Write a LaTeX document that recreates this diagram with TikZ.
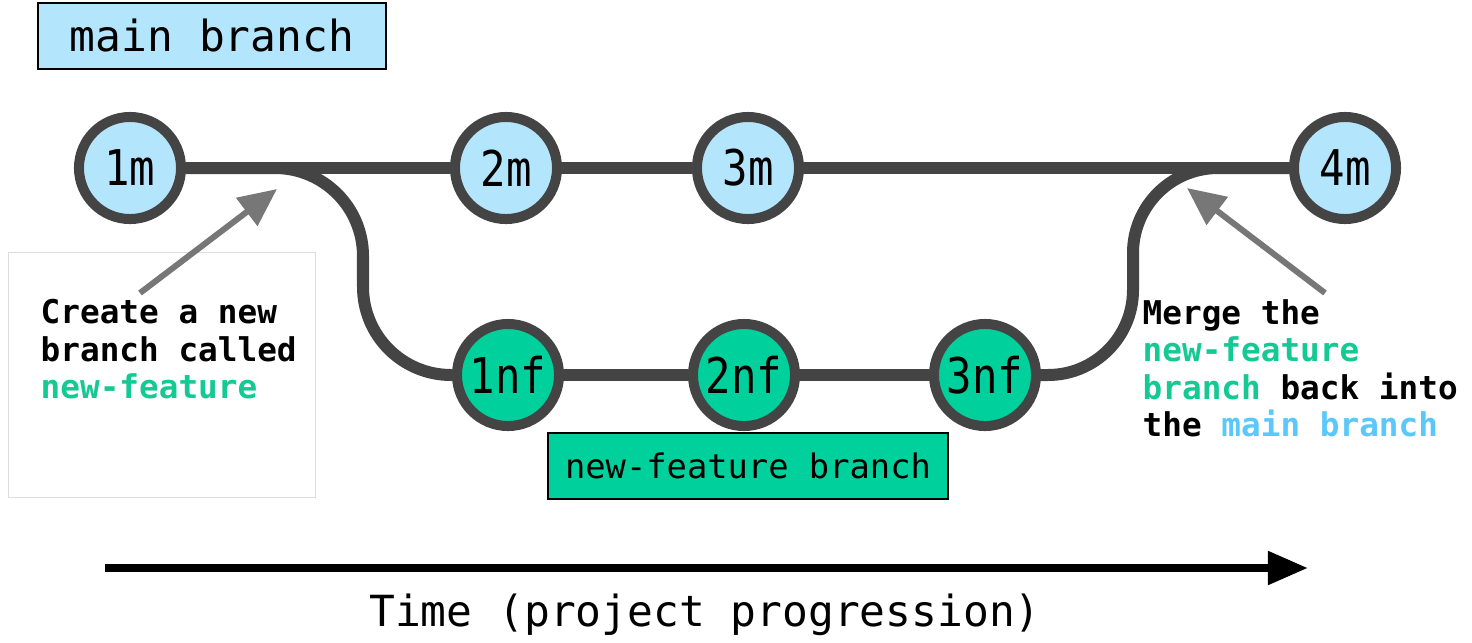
\documentclass[tikz,border=0pt]{standalone}
\usepackage{fontspec}
\newfontfamily\monofont{DejaVu Sans Mono}
\newfontfamily\commitfont[FakeStretch=0.86]{DejaVu Sans Mono}
\usetikzlibrary{arrows.meta}
\definecolor{mainblue}{HTML}{B3E5FC}
\definecolor{nfgreen}{HTML}{00D09C}
\definecolor{txtgreen}{HTML}{14C994}
\definecolor{txtblue}{HTML}{5AC8FA}
\definecolor{linegray}{HTML}{444444}
\definecolor{arrowgray}{HTML}{777777}
\definecolor{boxgray}{HTML}{DDDDDD}

\begin{document}
\begin{tikzpicture}[x=0.01cm, y=-0.01cm,
    commit/.style={circle, draw=linegray, line width=0.1cm, minimum size=1.02cm,
        inner sep=0pt, font=\commitfont\fontsize{14}{16}\selectfont},
    branch/.style={draw=linegray, line width=0.12cm},
    lbl/.style={draw=black, line width=0.02cm, inner sep=0pt},
    note/.style={align=left, inner sep=0pt, anchor=north west,
        font=\monofont\bfseries\fontsize{9.3}{10.6}\selectfont},
    pointer/.style={draw=arrowgray, line width=0.06cm, -{Triangle[length=0.38cm, width=0.34cm]}}]
                \useasboundingbox (0,0) rectangle (1472,642);

                % branch labels
                \node[lbl, fill=mainblue, minimum width=3.47cm, minimum height=0.65cm,
                    font=\monofont\fontsize{12.2}{14}\selectfont] (mainlbl) at (212,36) {main branch};
                \node[lbl, fill=nfgreen, minimum width=4cm, minimum height=0.65cm,
                    font=\monofont\fontsize{9.6}{11}\selectfont] (nflbl) at (748,466) {new-feature branch};

                % commits
                \node[commit, fill=mainblue] (m1) at (130,168) {1m};
                \node[commit, fill=mainblue] (m2) at (506,168) {2m};
                \node[commit, fill=mainblue] (m3) at (748,168) {3m};
                \node[commit, fill=mainblue] (m4) at (1345,168) {4m};
                \node[commit, fill=nfgreen] (nf1) at (508,375) {1nf};
                \node[commit, fill=nfgreen] (nf2) at (744,375) {2nf};
                \node[commit, fill=nfgreen] (nf3) at (985,375) {3nf};

                \draw[branch] (m1) -- (m2) -- (m3) -- (m4);
                \draw[branch] (nf1) -- (nf2) -- (nf3);
                \draw[branch, rounded corners=0.88cm] (m1.east) -- (363,168) |- (nf1.west);
                \draw[branch, rounded corners=0.85cm] (nf3.east) -- (1133,375) |- (m4.west);

                % notes
                \draw[boxgray, line width=0.01cm] (8,252) rectangle (315,497);
                \node[note] (createtxt) at (40,299) {Create a new\\branch called\\\textcolor{txtgreen}{new-feature}};
                \node[note] (mergetxt) at (1142,299) {Merge the\\\textcolor{txtgreen}{new-feature}\\
                    \textcolor{txtgreen}{branch} back into\\the \textcolor{txtblue}{main branch}};

                \coordinate (createtail) at (140,293);
                \coordinate (branchpt) at (277,189);
                \coordinate (mergetail) at (1325,293);
                \coordinate (mergept) at (1187,188);
                \draw[pointer] (createtail) -- (branchpt);
                \draw[pointer] (mergetail) -- (mergept);

                % time axis
                \coordinate (tstart) at (105,568);
                \coordinate (tend) at (1308,568);
                \draw[line width=0.08cm, -{Triangle[length=0.4cm, width=0.32cm]}] (tstart) -- (tend);
                \node[anchor=base, font=\monofont\fontsize{12.2}{14}\selectfont] (timelbl) at (705,626) {Time (project progression)};
            \end{tikzpicture}
\end{document}
